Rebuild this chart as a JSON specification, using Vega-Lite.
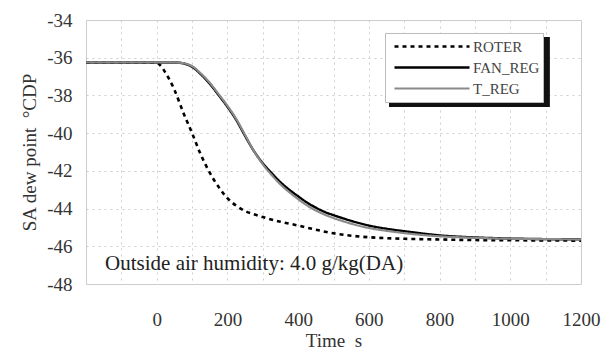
{
  "$schema": "https://vega.github.io/schema/vega-lite/v6.json",
  "width": 495,
  "height": 264,
  "autosize": {"type": "none"},
  "padding": {"left": 86, "top": 20, "right": 31, "bottom": 70},
  "background": "white",
  "config": {
    "view": {"stroke": "#cccccc", "strokeWidth": 1},
    "axis": {
      "labelFont": "Liberation Serif, serif", "titleFont": "Liberation Serif, serif",
      "labelFontSize": 19, "titleFontSize": 19, "titleFontWeight": "normal",
      "labelColor": "#333", "titleColor": "#333",
      "domain": false, "ticks": false, "tickSize": 0, "grid": true,
      "gridColor": "#cdcdcd", "gridDash": [2, 4], "gridWidth": 1, "labelOverlap": false
    }
  },
  "layer": [
    {
      "data": {"values": [{"part": "legend shadow"}]},
      "mark": {"type": "rect", "color": "#111"},
      "encoding": {
        "x": {"datum": 657, "type": "quantitative", "scale": {"domain": [-200, 1200], "nice": false},
          "axis": {
            "title": "Time\u00a0\u00a0s",
            "values": [-200, -100, 0, 100, 200, 300, 400, 500, 600, 700, 800, 900, 1000, 1100, 1200],
            "labelExpr": "datum.value >= 0 && datum.value % 200 == 0 ? '' + datum.value : ''",
            "labelOverlap": false, "grid": true,
            "labelFlush": false, "labelPadding": 26, "titlePadding": 2
          }},
        "x2": {"datum": 1112},
        "y": {"datum": -34.9, "type": "quantitative", "scale": {"domain": [-48, -34], "nice": false},
          "axis": {
            "title": "SA dew point\u00a0\u00a0°CDP",
            "values": [-48, -46, -44, -42, -40, -38, -36, -34],
            "labelExpr": "datum.value < 0 ? '-' + abs(datum.value) : '' + datum.value",
            "labelOverlap": false, "labelFlush": false, "grid": true,
            "labelPadding": 14, "titlePadding": 7
          }},
        "y2": {"datum": -38.61}
      }
    },
    {
      "data": {"values": [
        {"t": -200, "v": -36.25, "s": "ROTER"}, {"t": -100, "v": -36.25, "s": "ROTER"}, {"t": 0, "v": -36.27, "s": "ROTER"},
        {"t": 10, "v": -36.4, "s": "ROTER"}, {"t": 25, "v": -36.8, "s": "ROTER"}, {"t": 50, "v": -37.7, "s": "ROTER"},
        {"t": 75, "v": -38.9, "s": "ROTER"}, {"t": 100, "v": -40.0, "s": "ROTER"}, {"t": 125, "v": -41.15, "s": "ROTER"},
        {"t": 150, "v": -42.1, "s": "ROTER"}, {"t": 175, "v": -42.85, "s": "ROTER"}, {"t": 200, "v": -43.45, "s": "ROTER"},
        {"t": 225, "v": -43.85, "s": "ROTER"}, {"t": 250, "v": -44.13, "s": "ROTER"}, {"t": 275, "v": -44.3, "s": "ROTER"},
        {"t": 300, "v": -44.45, "s": "ROTER"}, {"t": 350, "v": -44.7, "s": "ROTER"}, {"t": 400, "v": -44.9, "s": "ROTER"},
        {"t": 450, "v": -45.12, "s": "ROTER"}, {"t": 500, "v": -45.31, "s": "ROTER"}, {"t": 550, "v": -45.44, "s": "ROTER"},
        {"t": 600, "v": -45.52, "s": "ROTER"}, {"t": 700, "v": -45.6, "s": "ROTER"}, {"t": 800, "v": -45.64, "s": "ROTER"},
        {"t": 900, "v": -45.67, "s": "ROTER"}, {"t": 1000, "v": -45.68, "s": "ROTER"}, {"t": 1200, "v": -45.7, "s": "ROTER"},

        {"t": -200, "v": -36.25, "s": "FAN_REG"}, {"t": 0, "v": -36.25, "s": "FAN_REG"}, {"t": 50, "v": -36.25, "s": "FAN_REG"},
        {"t": 75, "v": -36.3, "s": "FAN_REG"}, {"t": 100, "v": -36.48, "s": "FAN_REG"}, {"t": 125, "v": -36.88, "s": "FAN_REG"},
        {"t": 150, "v": -37.38, "s": "FAN_REG"}, {"t": 175, "v": -37.98, "s": "FAN_REG"}, {"t": 200, "v": -38.6, "s": "FAN_REG"},
        {"t": 225, "v": -39.3, "s": "FAN_REG"}, {"t": 250, "v": -40.15, "s": "FAN_REG"}, {"t": 275, "v": -40.95, "s": "FAN_REG"},
        {"t": 300, "v": -41.6, "s": "FAN_REG"}, {"t": 325, "v": -42.12, "s": "FAN_REG"}, {"t": 350, "v": -42.6, "s": "FAN_REG"},
        {"t": 375, "v": -43.0, "s": "FAN_REG"}, {"t": 400, "v": -43.35, "s": "FAN_REG"}, {"t": 425, "v": -43.68, "s": "FAN_REG"},
        {"t": 450, "v": -43.95, "s": "FAN_REG"}, {"t": 475, "v": -44.18, "s": "FAN_REG"}, {"t": 500, "v": -44.35, "s": "FAN_REG"},
        {"t": 550, "v": -44.65, "s": "FAN_REG"}, {"t": 600, "v": -44.9, "s": "FAN_REG"}, {"t": 650, "v": -45.07, "s": "FAN_REG"},
        {"t": 700, "v": -45.2, "s": "FAN_REG"}, {"t": 750, "v": -45.32, "s": "FAN_REG"}, {"t": 800, "v": -45.42, "s": "FAN_REG"},
        {"t": 900, "v": -45.53, "s": "FAN_REG"}, {"t": 1000, "v": -45.59, "s": "FAN_REG"}, {"t": 1100, "v": -45.62, "s": "FAN_REG"},
        {"t": 1200, "v": -45.63, "s": "FAN_REG"},

        {"t": -200, "v": -36.25, "s": "T_REG"}, {"t": 0, "v": -36.25, "s": "T_REG"}, {"t": 50, "v": -36.25, "s": "T_REG"},
        {"t": 75, "v": -36.29, "s": "T_REG"}, {"t": 100, "v": -36.45, "s": "T_REG"}, {"t": 125, "v": -36.84, "s": "T_REG"},
        {"t": 150, "v": -37.33, "s": "T_REG"}, {"t": 175, "v": -37.93, "s": "T_REG"}, {"t": 200, "v": -38.55, "s": "T_REG"},
        {"t": 225, "v": -39.25, "s": "T_REG"}, {"t": 250, "v": -40.1, "s": "T_REG"}, {"t": 275, "v": -40.95, "s": "T_REG"},
        {"t": 300, "v": -41.65, "s": "T_REG"}, {"t": 325, "v": -42.22, "s": "T_REG"}, {"t": 350, "v": -42.72, "s": "T_REG"},
        {"t": 375, "v": -43.13, "s": "T_REG"}, {"t": 400, "v": -43.5, "s": "T_REG"}, {"t": 425, "v": -43.83, "s": "T_REG"},
        {"t": 450, "v": -44.1, "s": "T_REG"}, {"t": 475, "v": -44.32, "s": "T_REG"}, {"t": 500, "v": -44.5, "s": "T_REG"},
        {"t": 550, "v": -44.8, "s": "T_REG"}, {"t": 600, "v": -45.03, "s": "T_REG"}, {"t": 650, "v": -45.18, "s": "T_REG"},
        {"t": 700, "v": -45.3, "s": "T_REG"}, {"t": 750, "v": -45.4, "s": "T_REG"}, {"t": 800, "v": -45.47, "s": "T_REG"},
        {"t": 900, "v": -45.55, "s": "T_REG"}, {"t": 1000, "v": -45.6, "s": "T_REG"}, {"t": 1100, "v": -45.62, "s": "T_REG"},
        {"t": 1200, "v": -45.63, "s": "T_REG"}
      ]},
      "mark": {"type": "line", "interpolate": "monotone"},
      "encoding": {
        "x": {
          "field": "t", "type": "quantitative",
          "scale": {"domain": [-200, 1200], "nice": false},
          "axis": {
            "title": "Time\u00a0\u00a0s",
            "values": [-200, -100, 0, 100, 200, 300, 400, 500, 600, 700, 800, 900, 1000, 1100, 1200],
            "labelExpr": "datum.value >= 0 && datum.value % 200 == 0 ? '' + datum.value : ''",
            "labelOverlap": false, "grid": true,
            "labelFlush": false, "labelPadding": 26, "titlePadding": 2
          }
        },
        "y": {
          "field": "v", "type": "quantitative",
          "scale": {"domain": [-48, -34], "nice": false},
          "axis": {
            "title": "SA dew point\u00a0\u00a0°CDP",
            "values": [-48, -46, -44, -42, -40, -38, -36, -34],
            "labelExpr": "datum.value < 0 ? '-' + abs(datum.value) : '' + datum.value",
            "labelOverlap": false, "labelFlush": false, "grid": true,
            "labelPadding": 14, "titlePadding": 7
          }
        },
        "color": {
          "field": "s", "type": "nominal",
          "scale": {"domain": ["ROTER", "FAN_REG", "T_REG"], "range": ["#000000", "#000000", "#8a8a8a"]},
          "legend": {
            "title": null, "orient": "none", "legendX": 299, "legendY": 13,
            "symbolType": "stroke", "symbolSize": 5625, "clipHeight": 21,
            "padding": 3, "symbolOffset": 5, "labelOffset": 2, "rowPadding": 0,
            "labelFont": "Liberation Serif, serif", "labelFontSize": 15, "labelColor": "#444",
            "fillColor": "white", "strokeColor": "#bbbbbb"
          }
        },
        "strokeDash": {
          "field": "s", "type": "nominal",
          "scale": {"domain": ["ROTER", "FAN_REG", "T_REG"], "range": [[4, 4], [1, 0], [1, 0]]}
        },
        "strokeWidth": {
          "field": "s", "type": "nominal",
          "scale": {"domain": ["ROTER", "FAN_REG", "T_REG"], "range": [2.6, 2.2, 1.3]}
        }
      }
    },
    {
      "data": {"values": [{"note": "Outside air humidity: 4.0 g/kg(DA)"}]},
      "mark": {"type": "text", "align": "left", "baseline": "alphabetic", "font": "Liberation Serif, serif", "fontSize": 21, "color": "#222"},
      "encoding": {
        "x": {"datum": -146, "type": "quantitative",
          "axis": {
            "title": "Time\u00a0\u00a0s",
            "values": [-200, -100, 0, 100, 200, 300, 400, 500, 600, 700, 800, 900, 1000, 1100, 1200],
            "labelExpr": "datum.value >= 0 && datum.value % 200 == 0 ? '' + datum.value : ''",
            "labelOverlap": false, "grid": true,
            "labelFlush": false, "labelPadding": 26, "titlePadding": 2
          }},
        "y": {"datum": -47.25, "type": "quantitative",
          "axis": {
            "title": "SA dew point\u00a0\u00a0°CDP",
            "values": [-48, -46, -44, -42, -40, -38, -36, -34],
            "labelExpr": "datum.value < 0 ? '-' + abs(datum.value) : '' + datum.value",
            "labelOverlap": false, "labelFlush": false, "grid": true,
            "labelPadding": 14, "titlePadding": 7
          }},
        "text": {"field": "note"}
      }
    }
  ]
}
